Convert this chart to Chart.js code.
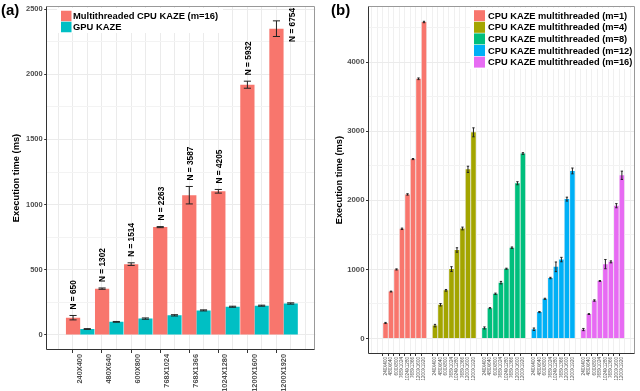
<!DOCTYPE html>
<html><head><meta charset="utf-8">
<script src="https://cdn.jsdelivr.net/npm/chart.js@4.4.1/dist/chart.umd.min.js"></script>
<style>
html,body{margin:0;padding:0;background:#fff;}
#wrap{position:relative;width:640px;height:391px;overflow:hidden;}
canvas{position:absolute;top:0;}
#ca{left:0}#cb{left:320px}
.pl{position:absolute;font:bold 15px "Liberation Sans",Arial,sans-serif;line-height:15px;color:#000;}
</style></head><body>
<div id="wrap">
<canvas id="ca" width="320" height="391"></canvas>
<canvas id="cb" width="320" height="391"></canvas>
<div class="pl" style="left:1px;top:2px">(a)</div>
<div class="pl" style="left:331px;top:2px">(b)</div>
</div>
<script>
// ---------- Panel (a) data ----------
const resolutionsA = ['240X400','480X640','600X800','768X1024','768X1366','1024X1280','1200X1600','1200X1920'];
const cpuM16 = [132, 355, 543, 827, 1072, 1102, 1920, 2350];
const cpuM16Err = [17, 5, 10, 4, 67, 14, 27, 60];
const gpuKaze = [45, 100, 125, 150, 188, 216, 224, 241];
const gpuKazeErr = [3, 3, 5, 5, 4, 4, 4, 5];
const sampleN = [650, 1302, 1514, 2263, 3587, 4205, 5932, 6754];
const seriesNamesA = ['Multithreaded CPU KAZE (m=16)', 'GPU KAZE'];
const yTicksA = [0, 500, 1000, 1500, 2000, 2500];

// ---------- Panel (b) data ----------
const resolutionsB = ['240X400','480X640','600X800','768X1024','1024X1280','768X1366','1200X1600','1200X1920'];
const threadCounts = [1, 4, 8, 12, 16];
const timeM1  = [224, 679, 999, 1587, 2085, 2597, 3759, 4581];
const errM1   = [8, 6, 8, 10, 10, 8, 12, 10];
const timeM4  = [186, 488, 697, 1004, 1281, 1592, 2448, 2984];
const errM4   = [18, 18, 12, 35, 32, 20, 45, 65];
const timeM8  = [152, 439, 646, 808, 1009, 1314, 2247, 2677];
const errM8   = [15, 8, 10, 18, 8, 10, 22, 12];
const timeM12 = [133, 382, 574, 875, 1037, 1142, 2017, 2425];
const errM12  = [18, 8, 8, 10, 70, 32, 28, 42];
const timeM16 = [129, 353, 549, 832, 1076, 1109, 1922, 2362];
const errM16  = [16, 6, 10, 6, 67, 14, 30, 60];
const yTicksB = [0, 1000, 2000, 3000, 4000];

const colorsA = ['#F8766D', '#00BFC4'];
const colorsB = ['#F8766D', '#A3A500', '#00BF7D', '#00B0F6', '#E76BF3'];
const FONT = '"Liberation Sans", Arial, sans-serif';
Chart.defaults.font.family = FONT;

// ---------- plugins ----------
const insideLegend = {
  id: 'insideLegend',
  beforeDatasetsDraw(chart, args, o) {
    const ctx = chart.ctx; ctx.save();
    ctx.fillStyle = '#fff';
    ctx.fillRect(o.bg[0], o.bg[1], o.bg[2], o.bg[3]);
    ctx.font = o.font; ctx.textBaseline = 'middle'; ctx.textAlign = 'left';
    chart.data.datasets.forEach((ds, i) => {
      const cy = o.y + i * o.rowH;
      ctx.fillStyle = ds.backgroundColor;
      ctx.fillRect(o.x, cy - o.box / 2, o.box, o.box);
      ctx.fillStyle = '#000';
      ctx.fillText(ds.label, o.textX, cy + 0.5);
    });
    ctx.restore();
  }
};
const errorBars = {
  id: 'errorBars',
  afterDatasetsDraw(chart, args, o) {
    const ctx = chart.ctx, y = chart.scales.y; ctx.save();
    ctx.strokeStyle = o.color; ctx.lineWidth = o.lineWidth;
    chart.data.datasets.forEach((ds, di) => {
      if (!ds.errors) return;
      const meta = chart.getDatasetMeta(di);
      meta.data.forEach((bar, i) => {
        const raw = ds.data[i]; const v = (raw && typeof raw === 'object') ? raw.y : raw;
        const e = ds.errors[i]; if (v == null || e == null) return;
        const yt = y.getPixelForValue(v + e), yb = y.getPixelForValue(v - e);
        const hw = bar.width * o.capRatio / 2;
        ctx.beginPath();
        ctx.moveTo(bar.x, yt); ctx.lineTo(bar.x, yb);
        ctx.moveTo(bar.x - hw, yt); ctx.lineTo(bar.x + hw, yt);
        ctx.moveTo(bar.x - hw, yb); ctx.lineTo(bar.x + hw, yb);
        ctx.stroke();
      });
    });
    ctx.restore();
  }
};
const nLabels = {
  id: 'nLabels',
  afterDatasetsDraw(chart) {
    const ctx = chart.ctx, y = chart.scales.y, area = chart.chartArea;
    const meta = chart.getDatasetMeta(0);
    ctx.save(); ctx.font = 'bold 8.3px ' + FONT; ctx.fillStyle = '#000';
    ctx.textAlign = 'left'; ctx.textBaseline = 'middle';
    sampleN.forEach((n, i) => {
      const bar = meta.data[i]; const txt = 'N = ' + n;
      const len = ctx.measureText(txt).width;
      let x = bar.x + 1, yb = y.getPixelForValue(cpuM16[i] + cpuM16Err[i]) - 6;
      if (yb - len < area.top + 2) { x = bar.x + bar.width + 2; yb = area.top + 2 + len; }
      ctx.save(); ctx.translate(x, yb); ctx.rotate(-Math.PI / 2); ctx.fillText(txt, 0, 0); ctx.restore();
    });
    ctx.restore();
  }
};
const frame = {
  id: 'frame',
  afterDraw(chart) {
    const ctx = chart.ctx, a = chart.chartArea;
    const l = Math.round(a.left) - 0.5, r = Math.round(a.right) - 0.5, t = Math.round(a.top) + 0.5, b = Math.round(a.bottom) - 0.5;
    ctx.save(); ctx.lineWidth = 1;
    ctx.strokeStyle = '#999';
    ctx.beginPath(); ctx.moveTo(l, t); ctx.lineTo(r, t); ctx.lineTo(r, b); ctx.stroke();
    ctx.strokeStyle = '#333';
    ctx.beginPath(); ctx.moveTo(l, t); ctx.lineTo(l, b); ctx.lineTo(r, b); ctx.stroke();
    ctx.restore();
  }
};

function rangeTicks(from, to, step) { const t = []; for (let v = from; v <= to + 1e-9; v += step) t.push({ value: +v.toFixed(4) }); return t; }

// ---------- Chart (a) ----------
// note: the x grid has a line every half category, so Chart.js measures a half-category
// sample size; categoryPercentage ~2 restores full-category-width dodged pairs.
new Chart(document.getElementById('ca'), {
  type: 'bar',
  data: {
    datasets: [
      { label: seriesNamesA[0], data: cpuM16.map((v, i) => ({ x: i + 1, y: v })), errors: cpuM16Err, backgroundColor: colorsA[0] },
      { label: seriesNamesA[1], data: gpuKaze.map((v, i) => ({ x: i + 1, y: v })), errors: gpuKazeErr, backgroundColor: colorsA[1] }
    ]
  },
  options: {
    responsive: false, animation: false,
    layout: { padding: { left: 0, right: 4.7, top: 3, bottom: 0 } },
    datasets: { bar: { categoryPercentage: 1.96, barPercentage: 1.0 } },
    plugins: {
      legend: { display: false }, tooltip: { enabled: false },
      insideLegend: { bg: [57, 8, 166, 25], x: 61, y: 16, rowH: 11, box: 10.5, textX: 73, font: 'bold 9.4px ' + FONT },
      errorBars: { color: '#222', lineWidth: 1, capRatio: 0.5 }
    },
    scales: {
      x: {
        type: 'linear', min: 0.12, max: 8.82,
        afterBuildTicks: s => { s.ticks = rangeTicks(0.5, 8.5, 0.5); },
        afterFit: s => { s.height = 41; },
        grid: { color: '#ebebeb', lineWidth: 1, tickLength: 3,
          tickColor: c => Number.isInteger(c.tick && c.tick.value) ? '#333' : 'rgba(0,0,0,0)' },
        border: { display: false },
        ticks: { autoSkip: false, minRotation: 90, maxRotation: 90, padding: 1, color: '#4d4d4d',
          font: { size: 7.4, weight: 'bold' },
          callback: v => Number.isInteger(v) ? resolutionsA[v - 1] : '' }
      },
      y: {
        min: -116, max: 2524,
        afterBuildTicks: s => { s.ticks = rangeTicks(0, 2500, 250); },
        afterFit: s => { s.width = 46.7; },
        grid: { color: c => (c.tick && yTicksA.includes(c.tick.value)) ? '#ebebeb' : '#f3f3f3', lineWidth: 1, tickLength: 2.5,
          tickColor: c => (c.tick && yTicksA.includes(c.tick.value)) ? '#333' : 'rgba(0,0,0,0)' },
        border: { display: false },
        title: { display: true, text: 'Execution time (ms)', color: '#000', font: { size: 9.3, weight: 'bold' }, padding: { top: 11, bottom: 0 } },
        ticks: { autoSkip: false, padding: 1.5, color: '#4d4d4d', font: { size: 7.5, weight: 'bold' },
          callback: v => yTicksA.includes(v) ? String(v) : '' }
      }
    }
  },
  plugins: [insideLegend, errorBars, nLabels, frame]
});

// ---------- Chart (b) ----------
const seriesB = [timeM1, timeM4, timeM8, timeM12, timeM16];
const errsB = [errM1, errM4, errM8, errM12, errM16];
const slotsPerGroup = resolutionsB.length + 1;
const slotLabels = [];
threadCounts.forEach((m, g) => resolutionsB.forEach((r, i) => { slotLabels[g * slotsPerGroup + i] = r; }));

new Chart(document.getElementById('cb'), {
  type: 'bar',
  data: {
    datasets: threadCounts.map((m, g) => ({
      label: 'CPU KAZE multithreaded (m=' + m + ')',
      data: seriesB[g].map((v, i) => ({ x: g * slotsPerGroup + i, y: v })),
      errors: errsB[g],
      backgroundColor: colorsB[g]
    }))
  },
  options: {
    responsive: false, animation: false,
    layout: { padding: { left: 0, right: 5, top: 3, bottom: 0 } },
    datasets: { bar: { grouped: false, categoryPercentage: 1.0, barPercentage: 0.84 } },
    plugins: {
      legend: { display: false }, tooltip: { enabled: false },
      insideLegend: { bg: [150, 8, 164, 61], x: 154, y: 15.7, rowH: 11.6, box: 11, textX: 168, font: 'bold 9.3px ' + FONT },
      errorBars: { color: '#222', lineWidth: 1, capRatio: 0.5 }
    },
    scales: {
      x: {
        type: 'linear', min: -2.58, max: 44.87,
        afterBuildTicks: s => { s.ticks = rangeTicks(-2, 44, 1); },
        afterFit: s => { s.height = 37; },
        grid: { color: '#f0f0f0', lineWidth: 1, tickLength: 2,
          tickColor: c => (c.tick && slotLabels[c.tick.value]) ? '#333' : 'rgba(0,0,0,0)' },
        border: { display: false },
        ticks: { autoSkip: false, minRotation: 90, maxRotation: 90, padding: 1, color: '#4d4d4d',
          font: { size: 4.6 }, callback: v => slotLabels[v] || '' }
      },
      y: {
        min: -225, max: 4810,
        afterBuildTicks: s => { s.ticks = rangeTicks(0, 4500, 500); },
        afterFit: s => { s.width = 48.5; },
        grid: { color: c => (c.tick && yTicksB.includes(c.tick.value)) ? '#ebebeb' : '#f3f3f3', lineWidth: 1, tickLength: 2.5,
          tickColor: c => (c.tick && yTicksB.includes(c.tick.value)) ? '#333' : 'rgba(0,0,0,0)' },
        border: { display: false },
        title: { display: true, text: 'Execution time (ms)', color: '#000', font: { size: 9.3, weight: 'bold' }, padding: { top: 14, bottom: 0 } },
        ticks: { autoSkip: false, padding: 1.5, color: '#4d4d4d', font: { size: 7.8, weight: 'bold' },
          callback: v => yTicksB.includes(v) ? String(v) : '' }
      }
    }
  },
  plugins: [insideLegend, errorBars, frame]
});
</script>
</body></html>
